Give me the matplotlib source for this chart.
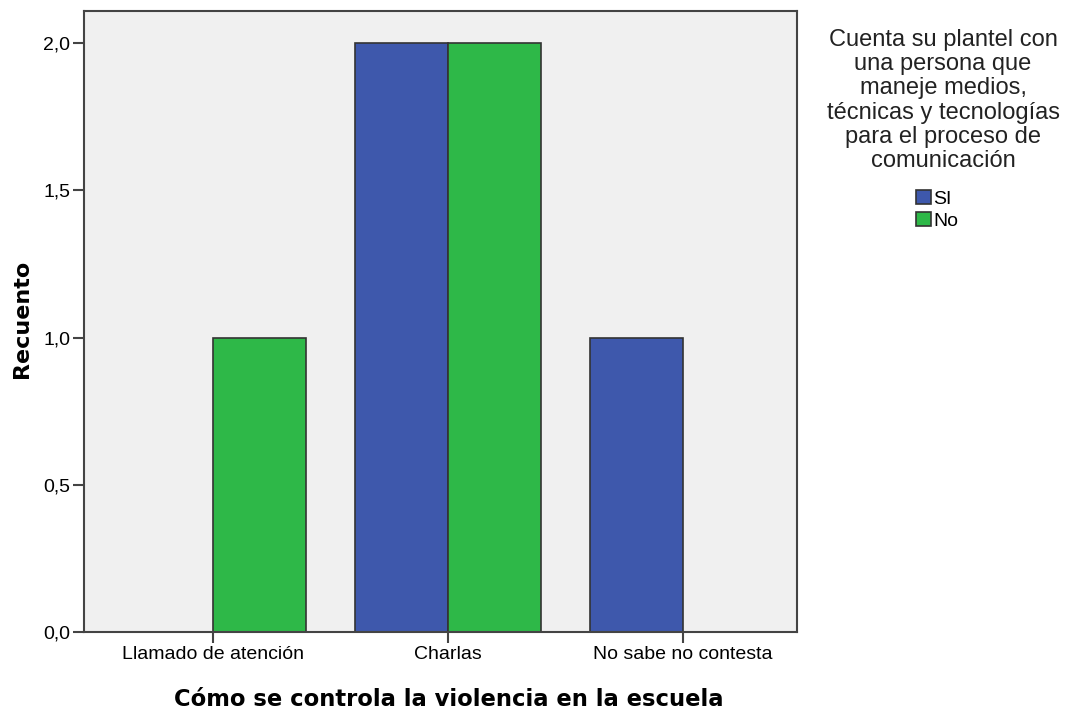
import matplotlib.pyplot as plt
import numpy as np

plt.rcParams['font.family'] = ['Liberation Sans', 'DejaVu Sans']

categories = ["Llamado de atención", "Charlas", "No sabe no contesta"]
si_counts = [0, 2, 1]
no_counts = [1, 2, 0]
series_names = ["SI", "No"]
legend_title = ("Cuenta su plantel con\nuna persona que\nmaneje medios,\n"
                "técnicas y tecnologías\npara el proceso de\ncomunicación")
yticks = [0.0, 0.5, 1.0, 1.5, 2.0]

blue = "#3E58AC"
green = "#2EB848"
edge = "#333333"

fig = plt.figure(figsize=(10.69, 7.15), dpi=100)
ax = fig.add_axes([84 / 1069, 83 / 715, 713 / 1069, 621 / 715])
ax.set_facecolor("#F0F0F0")

x = np.arange(len(categories))
w = 0.396
b1 = ax.bar(x - w / 2, si_counts, w, color=blue, edgecolor=edge, linewidth=1.2, label=series_names[0])
b2 = ax.bar(x + w / 2, no_counts, w, color=green, edgecolor=edge, linewidth=1.2, label=series_names[1])

ax.set_xlim(-0.549, 2.485)
ax.set_ylim(0, 2.109)
ax.set_xticks(x)
ax.set_xticklabels(categories, fontsize=14)
ax.set_yticks(yticks)
ax.set_yticklabels([("%.1f" % v).replace(".", ",") for v in yticks], fontsize=14)
ax.tick_params(axis="both", direction="out", length=8, width=1.5, color="#444444", pad=2)

for s in ax.spines.values():
    s.set_color("#444444")
    s.set_linewidth(1.5)

ax.set_ylabel("Recuento", fontsize=16, fontweight="bold", family="DejaVu Sans")
ax.yaxis.set_label_coords(-52 / 713, 0.505)
ax.set_xlabel("Cómo se controla la violencia en la escuela", fontsize=16.3, fontweight="bold",
              family="DejaVu Sans")
ax.xaxis.set_label_coords(0.5 + 8 / 713, -56 / 621)

fig.text(943 / 1069, 1 - 29 / 715, legend_title, ha="center", va="top", fontsize=17,
         linespacing=1.13, color="#222222")
fig.legend(handles=[b1, b2], labels=series_names, loc="upper left",
           bbox_to_anchor=(916 / 1069, 1 - 190 / 715), frameon=False, fontsize=14,
           handlelength=0.75, handleheight=0.75, handletextpad=0.15, labelspacing=0.2,
           borderpad=0, borderaxespad=0)

fig.savefig("out.png", dpi=100)
